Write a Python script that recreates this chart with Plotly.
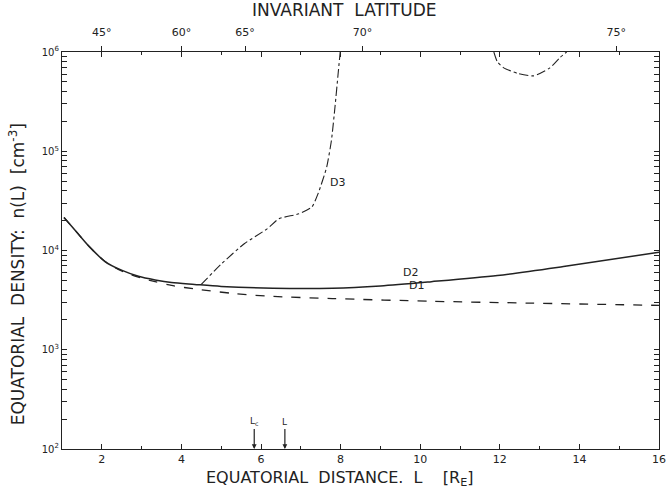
import numpy as np
import plotly.graph_objects as go

# ---- data ----
d2_L = [1.05, 1.4, 1.68, 2.09, 2.51, 2.92, 3.34, 3.75, 4.33, 5.0, 6.3, 7.8, 9.0, 10.28, 11.94, 13.6, 16.0]
d2_n = [21500, 14800, 11000, 7700, 6300, 5500, 5050, 4750, 4550, 4350, 4170, 4170, 4400, 4850, 5600, 6900, 9600]

d1_L = [1.05, 1.4, 1.68, 2.09, 2.51, 2.92, 3.34, 3.75, 4.33, 5.28, 6.16, 7.79, 10.28, 12.77, 16.0]
d1_n = [21500, 14800, 11000, 7700, 6200, 5400, 4850, 4450, 4100, 3700, 3470, 3280, 3080, 2950, 2800]

d3_L = [4.5, 5.0, 5.58, 6.16, 6.45, 6.95, 7.28, 7.44, 7.65, 7.77, 7.86, 7.94, 7.99,
        None,
        11.85, 11.94, 12.1, 12.44, 12.85, 13.26, 13.5, 13.68]
d3_n = [4550, 7300, 11700, 16600, 20900, 23400, 27500, 38000, 69000, 129000, 282000, 617000, 1000000,
        None,
        1000000, 794000, 692000, 610000, 575000, 692000, 870000, 1000000]

x_ticks = [2, 4, 6, 8, 10, 12, 14, 16]
x_minor = [1, 3, 5, 7, 9, 11, 13, 15]
y_ticks = [1e2, 1e3, 1e4, 1e5, 1e6]
y_ticktext = ["10<sup>2</sup>", "10<sup>3</sup>", "10<sup>4</sup>", "10<sup>5</sup>", "10<sup>6</sup>"]
lat_deg = [45, 60, 65, 70, 75]
lat_text = ["45°", "60°", "65°", "70°", "75°"]
marker_L = [5.83, 6.6]
marker_text = ["L<sub>c</sub>", "L"]
curve_labels = ["D3", "D2", "D1"]
curve_label_L = [7.92, 9.75, 9.9]
curve_label_n = [48000, 5950, 4450]

INK = "#222222"
FONT = "DejaVu Sans"

# invariant latitude -> L (dipole)
lat_L = [1.0 / np.cos(np.radians(a)) ** 2 for a in lat_deg]
y_minor = [m * 10 ** e for e in range(2, 6) for m in range(2, 10)]

fig = go.Figure()
fig.add_trace(go.Scatter(x=d1_L, y=d1_n, mode="lines", line=dict(color=INK, width=1.3, dash="dash", shape="spline", smoothing=0.8), showlegend=False))
fig.add_trace(go.Scatter(x=d2_L, y=d2_n, mode="lines", line=dict(color=INK, width=1.5, shape="spline", smoothing=0.8), showlegend=False))
fig.add_trace(go.Scatter(x=d3_L, y=d3_n, mode="lines", connectgaps=False, line=dict(color=INK, width=1.1, dash="dashdot", shape="spline", smoothing=0.5), showlegend=False))
# invisible trace to activate top axis
fig.add_trace(go.Scatter(x=[1, 16], y=[1e3, 1e3], xaxis="x2", mode="lines", line=dict(width=0), hoverinfo="skip", showlegend=False))

for t, xL, yn in zip(curve_labels, curve_label_L, curve_label_n):
    fig.add_annotation(x=xL, y=np.log10(yn), text=t, showarrow=False, font=dict(family=FONT, size=11, color=INK))

for xL, t in zip(marker_L, marker_text):
    fig.add_annotation(x=xL, y=2.0, ax=0, ay=-20, text=t, showarrow=True, arrowhead=2, arrowsize=0.8,
                       arrowwidth=1.2, arrowcolor=INK, yanchor="bottom", font=dict(family=FONT, size=9, color=INK))

# top title
fig.add_annotation(xref="paper", yref="paper", x=0.474, y=1.106, yanchor="middle", xanchor="center",
                   text="INVARIANT  LATITUDE", showarrow=False, font=dict(family=FONT, size=17, color=INK))
# bottom title
fig.add_annotation(xref="paper", yref="paper", x=0.464, y=-0.075, yanchor="middle", xanchor="center",
                   text="EQUATORIAL  DISTANCE.  L    [R<sub>E</sub>]", showarrow=False,
                   font=dict(family=FONT, size=16, color=INK))
# y title
fig.add_annotation(xref="paper", yref="paper", x=-0.0754, y=0.44, yanchor="middle", xanchor="center",
                   textangle=-90, text="EQUATORIAL  DENSITY:  n(L)  [cm<sup>-3</sup>]", showarrow=False,
                   font=dict(family=FONT, size=17, color=INK))

fig.update_layout(
    width=668, height=495,
    margin=dict(l=62, r=9, t=52, b=46, autoexpand=False),
    paper_bgcolor="white", plot_bgcolor="white",
    font=dict(family=FONT, size=11, color=INK),
    xaxis=dict(range=[1, 16], tickvals=x_ticks, ticks="inside", ticklen=5, tickcolor=INK, automargin=False,
               showline=True, linecolor=INK, linewidth=1.4, mirror="allticks", showgrid=False, zeroline=False,
               minor=dict(tickvals=x_minor, ticks="inside", ticklen=3, tickcolor=INK),
               tickfont=dict(family=FONT, size=11, color=INK)),
    xaxis2=dict(range=[1, 16], overlaying="x", side="top", tickvals=lat_L, ticktext=lat_text, automargin=False,
                ticks="outside", ticklen=5, tickcolor=INK, showgrid=False, zeroline=False, showline=False,
                ticklabelstandoff=6, tickfont=dict(family=FONT, size=11, color=INK)),
    yaxis=dict(type="log", range=[2, 6], tickvals=y_ticks, ticktext=y_ticktext, ticks="inside", ticklen=5,
               tickcolor=INK, showline=True, linecolor=INK, linewidth=1.2, mirror="allticks", showgrid=False,
               zeroline=False, automargin=False, minor=dict(tickvals=y_minor, ticks="inside", ticklen=3, tickcolor=INK),
               tickfont=dict(family=FONT, size=10, color=INK)),
)

fig.write_html("out.html", config={"displayModeBar": False},
               post_script="document.body.style.margin='0';document.body.style.overflow='hidden';")
